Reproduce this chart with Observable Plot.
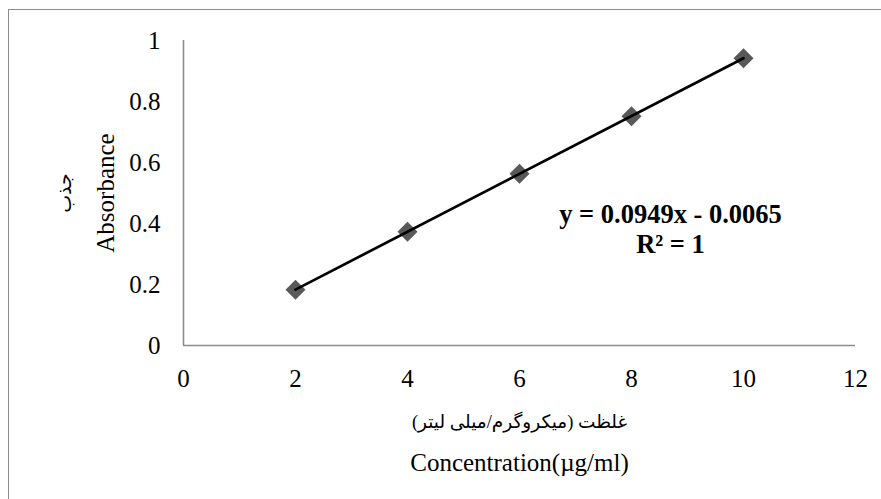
<!DOCTYPE html>
<html>
<head>
<meta charset="utf-8">
<script src="https://cdn.jsdelivr.net/npm/d3@7"></script>
<script src="https://cdn.jsdelivr.net/npm/@observablehq/plot@0.6"></script>
<style>
  html, body { margin: 0; padding: 0; background: #fff; overflow: hidden; }
  #wrap { position: relative; width: 881px; height: 499px; }
  #border { position: absolute; left: 8px; top: 9px; width: 900px; height: 520px;
            border: 1.6px solid #8c8c8c; pointer-events: none; box-sizing: border-box; }
</style>
</head>
<body>
<div id="wrap"><div id="border"></div></div>
<script>
const concentration = [2, 4, 6, 8, 10];
const absorbance = [0.183, 0.373, 0.563, 0.752, 0.942];
const xTicks = [0, 2, 4, 6, 8, 10, 12];
const yTicks = [0, 0.2, 0.4, 0.6, 0.8, 1];
const xTitleFa = "غلظت (میکروگرم/میلی لیتر)";
const xTitleEn = "Concentration(µg/ml)";
const yTitleFa = "جذب";
const yTitleEn = "Absorbance";
const equation = "y = 0.0949x - 0.0065";
const rSquared = "R² = 1";

const data = concentration.map((c, i) => ({c, a: absorbance[i]}));
const font = '"Liberation Serif", "Times New Roman", "DejaVu Sans", serif';

const chart = Plot.plot({
  width: 881,
  height: 499,
  marginLeft: 183,
  marginRight: 26,
  marginTop: 40,
  marginBottom: 154,
  style: {fontFamily: font, fontSize: "25px", color: "#000", background: "#fff"},
  x: {domain: [0, 12], ticks: xTicks, tickSize: 0, tickPadding: 24, label: null, tickFormat: d => String(d)},
  y: {domain: [0, 1], ticks: yTicks, tickSize: 0, tickPadding: 23, label: null, tickFormat: d => String(d)},
  marks: [
    Plot.ruleY([0], {stroke: "#8c8c8c", strokeWidth: 1.6}),
    Plot.ruleX([0], {stroke: "#8c8c8c", strokeWidth: 1.6}),
    Plot.dot(data, {x: "c", y: "a", symbol: "diamond2", r: 9, fill: "#595959", stroke: "none"}),
    Plot.linearRegressionY(data, {x: "c", y: "a", stroke: "#000", strokeWidth: 2.7, ci: 0}),
    Plot.text([equation], {frameAnchor: "top-left", dx: 487, dy: 174, text: d => d, textAnchor: "middle", fontWeight: "bold", fontSize: 26.5, fill: "#000", lineAnchor: "middle"}),
    Plot.text([rSquared], {frameAnchor: "top-left", dx: 487, dy: 204.5, text: d => d, textAnchor: "middle", fontWeight: "bold", fontSize: 26.5, fill: "#000", lineAnchor: "middle"}),
    Plot.text([xTitleFa], {frameAnchor: "bottom", dy: 77, text: d => d, textAnchor: "middle", fontSize: 18.5, fill: "#000", lineAnchor: "middle"}),
    Plot.text([xTitleEn], {frameAnchor: "bottom", dy: 117, text: d => d, textAnchor: "middle", fontSize: 25, fill: "#000", lineAnchor: "middle"}),
    Plot.text([yTitleEn], {frameAnchor: "left", dx: -78, text: d => d, textAnchor: "middle", rotate: -90, fontSize: 25, fill: "#000", lineAnchor: "middle"}),
    Plot.text([yTitleFa], {frameAnchor: "left", dx: -119, text: d => d, textAnchor: "middle", rotate: -90, fontSize: 19, fill: "#000", lineAnchor: "middle"})
  ]
});
chart.style.position = "absolute";
chart.style.left = "0";
chart.style.top = "0";
document.getElementById("wrap").prepend(chart);
</script>
</body>
</html>
